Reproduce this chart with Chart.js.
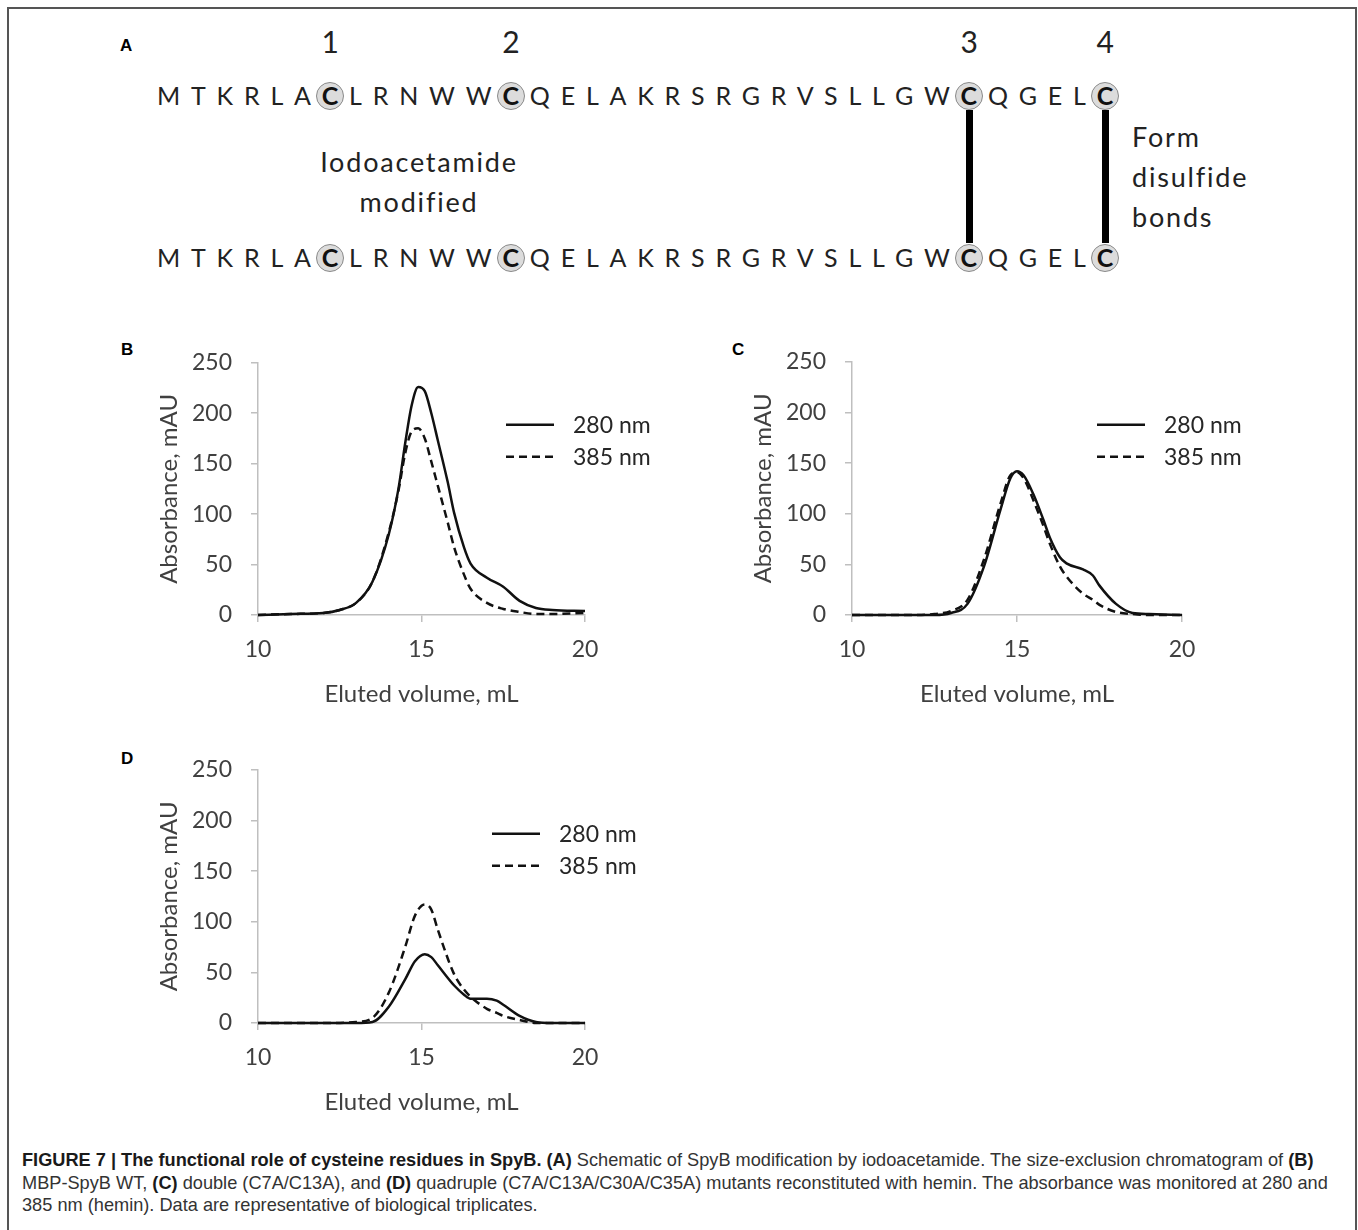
<!DOCTYPE html>
<html>
<head>
<meta charset="utf-8">
<title>SpyB cysteine residues</title>
<script src="https://cdn.jsdelivr.net/npm/chart.js@4.4.1/dist/chart.umd.min.js"></script>
<style>
  html, body { margin: 0; padding: 0; background: #fff; }
  body { width: 1358px; height: 1230px; position: relative; overflow: hidden; font-family: Lato, sans-serif; color: #222; }
  .frame { position: absolute; left: 7px; top: 7px; width: 1350px; height: 1300px; box-sizing: border-box; border: 2px solid #555; border-bottom: none; }
  .plabel { position: absolute; font: bold 17px "Liberation Sans", Arial, sans-serif; color: #000; line-height: 1; }

  .seq { position: absolute; left: 157px; font-size: 25px; letter-spacing: 10.8px; line-height: 1; white-space: nowrap; color: #222; z-index: 0; }
  .cys { position: relative; font-weight: 700; color: #111; }
  .cys::before { content: ''; position: absolute; left: -5.5px; top: 2px; width: 28px; height: 28px; border-radius: 50%; background: #dcdcdc; border: 1.5px solid #8a8a8a; box-sizing: border-box; z-index: -1; }
  .num { position: absolute; left: 8.5px; top: -54px; transform: translateX(-50%); font-size: 30px; font-style: normal; font-weight: 400; line-height: 1; letter-spacing: 0; color: #222; }
  .bond { position: absolute; left: 5px; top: 30px; width: 7px; height: 133px; background: #000; }

  .note { position: absolute; font-size: 27px; letter-spacing: 1.8px; line-height: 40px; color: #222; }

  .chartbox { position: absolute; }
  .caption { position: absolute; left: 22px; top: 1149px; font: 18.2px/22.5px "Liberation Sans", Arial, sans-serif; color: #333; white-space: nowrap; }
  .caption b { color: #1a1a1a; }
</style>
</head>
<body>
<div class="frame"></div>

<!-- panel A: schematic -->
<div class="plabel" style="left:120px; top:37px;">A</div>
<div class="seq" style="top:83px;">MTKRLA<span class="cys">C<i class="num">1</i></span>LRNWW<span class="cys">C<i class="num">2</i></span>QELAKRSRGRVSLLGW<span class="cys">C<i class="num">3</i><i class="bond"></i></span>QGEL<span class="cys">C<i class="num">4</i><i class="bond"></i></span></div>
<div class="seq" style="top:245px;">MTKRLA<span class="cys">C</span>LRNWW<span class="cys">C</span>QELAKRSRGRVSLLGW<span class="cys">C</span>QGEL<span class="cys">C</span></div>
<div class="note" style="left:269px; top:142px; width:300px; text-align:center;">Iodoacetamide<br>modified</div>
<div class="note" style="left:1132px; top:117px;">Form<br>disulfide<br>bonds</div>

<!-- panels B, C, D -->
<div class="plabel" style="left:121px; top:341px;">B</div>
<div class="plabel" style="left:732px; top:341px;">C</div>
<div class="plabel" style="left:121px; top:750px;">D</div>
<div class="chartbox" style="left:138px; top:330px;"><canvas id="chartB" width="537" height="385"></canvas></div>
<div class="chartbox" style="left:732px; top:329px;"><canvas id="chartC" width="540" height="386"></canvas></div>
<div class="chartbox" style="left:138px; top:737px;"><canvas id="chartD" width="537" height="386"></canvas></div>

<div class="caption"><b>FIGURE 7 | The functional role of cysteine residues in SpyB. (A)</b> Schematic of SpyB modification by iodoacetamide. The size-exclusion chromatogram of <b>(B)</b><br>MBP-SpyB WT, <b>(C)</b> double (C7A/C13A), and <b>(D)</b> quadruple (C7A/C13A/C30A/C35A) mutants reconstituted with hemin. The absorbance was monitored at 280 and<br>385 nm (hemin). Data are representative of biological triplicates.</div>

<script>
// eluted volume (mL) and absorbance (mAU)
const volumeB = [10, 11, 12, 12.5, 13, 13.5, 14, 14.3, 14.5, 14.7, 14.9, 15.1, 15.3, 15.5, 15.8, 16, 16.3, 16.5, 17, 17.5, 18, 18.5, 19, 20];
const wtA280  = [0, 1, 2, 5, 12, 33, 80, 126, 170, 208, 226, 222, 200, 173, 132, 101, 67, 51, 37, 28, 14, 7, 5, 4];
const wtA385  = [0, 1, 2, 5, 12, 33, 82, 124, 160, 182, 185, 175, 152, 128, 92, 67, 40, 26, 12, 6, 3, 1, 1, 2];

const volumeC    = [10, 11, 12, 12.5, 13, 13.5, 14, 14.5, 14.8, 15, 15.2, 15.5, 15.8, 16, 16.3, 16.5, 17, 17.3, 17.5, 18, 18.5, 19, 20];
const doubleA280 = [0, 0, 0, 0, 2, 11, 48, 104, 135, 142, 138, 119, 94, 76, 57, 51, 45, 39, 29, 11, 2, 1, 0];
const doubleA385 = [0, 0, 0, 1, 4, 15, 55, 110, 138, 141, 135, 113, 88, 70, 48, 38, 21, 15, 10, 3, 1, 0, 0];

const volumeD  = [10, 11, 12, 13, 13.5, 14, 14.5, 14.8, 15.1, 15.3, 15.5, 16, 16.3, 16.5, 17, 17.3, 17.5, 18, 18.5, 19, 20];
const quadA280 = [0, 0, 0, 0, 1, 16, 43, 61, 68, 65, 57, 37, 28, 24, 24, 22, 18, 7, 1, 0, 0];
const quadA385 = [0, 0, 0, 1, 5, 30, 75, 106, 117, 112, 92, 48, 33, 26, 14, 10, 7, 3, 0, 0, 0];

const seriesLabels = ['280 nm', '385 nm'];
const xTicks = [10, 15, 20];
const yTicks = [0, 50, 100, 150, 200, 250];

const ink = '#404040';
const axisGrey = '#bfbfbf';

// legend drawn inside the plot area, like the original
const insideLegend = {
  id: 'insideLegend',
  afterDatasetsDraw(chart, args, opts) {
    const { ctx, chartArea } = chart;
    ctx.save();
    chart.data.datasets.forEach((ds, i) => {
      const x = chartArea.left + opts.left;
      const y = chartArea.top + opts.top + i * 32;
      ctx.beginPath();
      ctx.setLineDash(ds.borderDash || []);
      ctx.lineWidth = ds.borderWidth;
      ctx.strokeStyle = ds.borderColor;
      ctx.moveTo(x, y);
      ctx.lineTo(x + 48, y);
      ctx.stroke();
      ctx.setLineDash([]);
      ctx.fillStyle = '#262626';
      ctx.font = '23px Lato';
      ctx.textBaseline = 'middle';
      ctx.fillText(ds.label, x + 67, y + 1);
    });
    ctx.restore();
  }
};

function toPoints(xs, ys) {
  return xs.map((x, i) => ({ x: x, y: ys[i] }));
}

function chromatogram(id, volumes, a280, a385, legendLeft, legendTop) {
  const canvas = document.getElementById(id);
  new Chart(canvas.getContext('2d'), {
    type: 'line',
    data: {
      datasets: [
        { label: seriesLabels[0], data: toPoints(volumes, a280), borderColor: '#111', borderWidth: 2.5,
          pointRadius: 0, cubicInterpolationMode: 'monotone', clip: 4 },
        { label: seriesLabels[1], data: toPoints(volumes, a385), borderColor: '#111', borderWidth: 2.5,
          borderDash: [8, 5], pointRadius: 0, cubicInterpolationMode: 'monotone', clip: 4 }
      ]
    },
    options: {
      responsive: false,
      animation: false,
      devicePixelRatio: 1,
      layout: { padding: { top: 17, right: 90, left: 0, bottom: 0 } },
      plugins: {
        legend: { display: false },
        tooltip: { enabled: false },
        insideLegend: { left: legendLeft, top: legendTop }
      },
      scales: {
        x: {
          type: 'linear', min: 10, max: 20,
          afterBuildTicks: s => { s.ticks = xTicks.map(v => ({ value: v })); },
          afterFit: s => { s.height = 100; },
          grid: { drawOnChartArea: false, drawTicks: true, tickLength: 7, color: axisGrey, lineWidth: 1.5 },
          border: { color: axisGrey, width: 1.5 },
          ticks: { color: ink, padding: 14, font: { family: 'Lato', size: 23 } },
          title: { display: true, text: 'Eluted volume, mL', color: ink, padding: { top: 0, bottom: 6 },
                   font: { family: 'Lato', size: 24 } }
        },
        y: {
          min: 0, max: 250,
          afterBuildTicks: s => { s.ticks = yTicks.map(v => ({ value: v })); },
          afterFit: s => { s.width = 120; },
          grid: { drawOnChartArea: false, drawTicks: true, tickLength: 7, color: axisGrey, lineWidth: 1.5 },
          border: { color: axisGrey, width: 1.5 },
          ticks: { color: ink, padding: 19, font: { family: 'Lato', size: 23 } },
          title: { display: true, text: 'Absorbance, mAU', color: ink, padding: { top: 17, bottom: 0 },
                   font: { family: 'Lato', size: 24 } }
        }
      }
    },
    plugins: [insideLegend]
  });
}

document.fonts.ready.then(() => {
  chromatogram('chartB', volumeB, wtA280, wtA385, 248, 62);
  chromatogram('chartC', volumeC, doubleA280, doubleA385, 245, 63);
  chromatogram('chartD', volumeD, quadA280, quadA385, 234, 64);
});
</script>
</body>
</html>
